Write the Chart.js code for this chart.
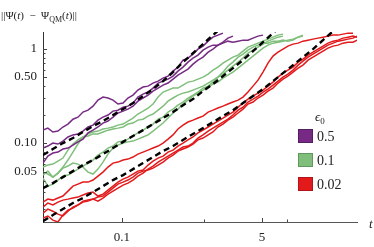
<!DOCTYPE html>
<html>
<head>
<meta charset="utf-8">
<script src="https://cdn.jsdelivr.net/npm/chart.js@4.4.1/dist/chart.umd.min.js"></script>
<style>
    html, body { margin: 0; padding: 0; background: #ffffff; }
</style>
</head>
<body>
<canvas id="myChart" width="374" height="247"></canvas>
<script>
"use strict";

// time grid t of the simulated runs
const times = [0.011, 0.0126, 0.0145, 0.0167, 0.0192, 0.0221, 0.0254, 0.0292, 0.0336, 0.0387,
    0.0445, 0.0511, 0.0588, 0.0676, 0.0778, 0.0894, 0.103, 0.118, 0.136, 0.156,
    0.180, 0.207, 0.238, 0.274, 0.315, 0.362, 0.416, 0.478, 0.550, 0.632,
    0.727, 0.836, 0.962, 1.11, 1.27, 1.46, 1.68, 1.93, 2.22, 2.56,
    2.94, 3.38, 3.89, 4.47, 5.14, 5.91, 6.80, 7.82, 8.99, 10.3,
    11.9, 13.7, 15.7, 18.1, 20.8, 23.9, 27.5, 31.6, 36.4, 41.8,
    48.1, 55.3, 63.6, 71.1];

// coarser grid for the dashed estimates
const fitTimes = [0.011, 0.0145, 0.0192, 0.0254, 0.0336, 0.0445, 0.0588, 0.0778, 0.103, 0.136,
    0.180, 0.238, 0.315, 0.416, 0.550, 0.727, 0.962, 1.27, 1.68, 2.22,
    2.94, 3.89, 5.14, 6.80, 8.99, 11.9, 15.7, 20.8, 27.5, 36.4,
    48.1, 63.6, 71.1];

const epsLabels = ["0.5", "0.1", "0.02"];

// eps0 = 0.5
const purpleA = [0.137, 0.144, 0.131, 0.134, 0.148, 0.159, 0.179, 0.188, 0.213, 0.223, 0.246, 0.285, 0.307, 0.300, 0.285, 0.259, 0.265, 0.300, 0.322, 0.364, 0.392, 0.401, 0.432, 0.453, 0.487, 0.512, 0.578, 0.637, 0.756, 0.793, 0.874, 0.988, 1.063, 1.200, 1.323, 1.390, 1.459];
const purpleB = [0.0886, 0.0930, 0.100, 0.0977, 0.105, 0.116, 0.122, 0.125, 0.134, 0.148, 0.155, 0.175, 0.188, 0.198, 0.218, 0.223, 0.240, 0.246, 0.265, 0.307, 0.330, 0.347, 0.382, 0.432, 0.453, 0.476, 0.512, 0.578, 0.637, 0.720, 0.793, 0.853, 0.964, 1.037, 1.089, 1.089, 1.143, 1.200, 1.171, 1.200, 1.230, 1.230, 1.292, 1.356, 1.390];
const purpleC = [0.0614, 0.0728, 0.0784, 0.0803, 0.0865, 0.0886, 0.0953, 0.103, 0.110, 0.128, 0.137, 0.148, 0.163, 0.171, 0.188, 0.208, 0.218, 0.229, 0.246, 0.278, 0.300, 0.322, 0.355, 0.382, 0.411, 0.432, 0.476, 0.524, 0.564, 0.607, 0.685, 0.756, 0.813, 0.918, 0.988, 1.089, 1.171, 1.292, 1.356];
const purpleFit = [0.0746, 0.0865, 0.100, 0.113, 0.131, 0.151, 0.171, 0.198, 0.229, 0.265, 0.315, 0.373, 0.453, 0.564, 0.720, 0.896, 1.116, 1.390, 1.730];

// eps0 = 0.1
const greenA = [0.0493, 0.0470, 0.0436, 0.0481, 0.0557, 0.0661, 0.0803, 0.0977, 0.116, 0.125, 0.131, 0.134, 0.141, 0.144, 0.148, 0.155, 0.159, 0.171, 0.184, 0.203, 0.218, 0.235, 0.259, 0.307, 0.347, 0.364, 0.382, 0.382, 0.411, 0.442, 0.453, 0.476, 0.499, 0.537, 0.592, 0.637, 0.702, 0.756, 0.813, 0.853, 0.941, 1.037, 1.089, 1.143, 1.200, 1.261, 1.323, 1.390, 1.424];
const greenB = [0.0557, 0.0585, 0.0599, 0.0645, 0.0694, 0.0843, 0.0977, 0.108, 0.116, 0.119, 0.125, 0.125, 0.131, 0.137, 0.141, 0.144, 0.148, 0.159, 0.163, 0.175, 0.179, 0.193, 0.203, 0.223, 0.246, 0.278, 0.300, 0.322, 0.338, 0.347, 0.364, 0.382, 0.401, 0.432, 0.464, 0.499, 0.564, 0.653, 0.720, 0.813, 0.874, 0.964, 1.037, 1.089, 1.143, 1.143, 1.200, 1.200, 1.230, 1.200, 1.230, 1.323, 1.390];
const greenC = [0.0458, 0.0505, 0.0436, 0.0481, 0.0543, 0.0571, 0.0614, 0.0599, 0.0557, 0.0493, 0.0470, 0.0530, 0.0629, 0.0765, 0.0886, 0.0953, 0.100, 0.103, 0.105, 0.110, 0.116, 0.122, 0.134, 0.148, 0.163, 0.184, 0.208, 0.229, 0.259, 0.285, 0.315, 0.338, 0.364, 0.392, 0.421, 0.442, 0.487, 0.524, 0.564, 0.622, 0.685, 0.756, 0.833, 0.918, 1.012, 1.089, 1.143, 1.171, 1.200, 1.230, 1.261, 1.323, 1.356];
const greenD = [0.0426, 0.0350, 0.0368, 0.0406, 0.0447, 0.0458, 0.0493, 0.0530, 0.0571, 0.0614, 0.0661, 0.0746, 0.0803, 0.0886, 0.0930, 0.103, 0.105, 0.110, 0.119, 0.128, 0.137, 0.148, 0.159, 0.179, 0.188, 0.213, 0.229, 0.252, 0.272, 0.300, 0.322, 0.347, 0.382, 0.401, 0.442, 0.499, 0.537, 0.592, 0.653, 0.720, 0.793, 0.896, 0.964, 1.037, 1.116, 1.200, 1.261, 1.323, 1.356];
const greenFit = [0.0334, 0.0377, 0.0436, 0.0505, 0.0585, 0.0661, 0.0765, 0.0886, 0.103, 0.119, 0.137, 0.159, 0.184, 0.213, 0.252, 0.292, 0.355, 0.421, 0.512, 0.622, 0.756, 0.941, 1.171, 1.459, 1.817];

// eps0 = 0.02
const redA = [0.0237, 0.0255, 0.0249, 0.0262, 0.0275, 0.0310, 0.0350, 0.0368, 0.0386, 0.0386, 0.0406, 0.0447, 0.0493, 0.0557, 0.0614, 0.0629, 0.0661, 0.0677, 0.0711, 0.0765, 0.0803, 0.0843, 0.0886, 0.0930, 0.100, 0.110, 0.122, 0.141, 0.155, 0.167, 0.175, 0.184, 0.193, 0.213, 0.223, 0.235, 0.246, 0.259, 0.272, 0.285, 0.307, 0.347, 0.401, 0.464, 0.564, 0.702, 0.833, 0.918, 0.988, 1.063, 1.116, 1.143, 1.200, 1.230, 1.261, 1.292, 1.323, 1.356, 1.390, 1.390, 1.424, 1.459, 1.459];
const redB = [0.0210, 0.0232, 0.0221, 0.0237, 0.0249, 0.0255, 0.0262, 0.0268, 0.0282, 0.0296, 0.0303, 0.0275, 0.0288, 0.0318, 0.0350, 0.0386, 0.0416, 0.0436, 0.0470, 0.0505, 0.0518, 0.0585, 0.0645, 0.0694, 0.0728, 0.0803, 0.0843, 0.0930, 0.100, 0.108, 0.116, 0.128, 0.137, 0.148, 0.159, 0.171, 0.184, 0.198, 0.213, 0.240, 0.265, 0.292, 0.315, 0.338, 0.364, 0.401, 0.442, 0.499, 0.550, 0.592, 0.637, 0.720, 0.774, 0.853, 0.918, 0.988, 1.063, 1.143, 1.200, 1.230, 1.292, 1.323, 1.356, 1.323];
const redC = [0.0181, 0.0200, 0.0190, 0.0177, 0.0169, 0.0190, 0.0210, 0.0221, 0.0237, 0.0243, 0.0255, 0.0268, 0.0275, 0.0303, 0.0334, 0.0368, 0.0386, 0.0406, 0.0436, 0.0481, 0.0505, 0.0518, 0.0543, 0.0585, 0.0629, 0.0694, 0.0746, 0.0823, 0.0865, 0.0908, 0.0977, 0.108, 0.113, 0.122, 0.131, 0.148, 0.159, 0.175, 0.188, 0.208, 0.229, 0.259, 0.272, 0.300, 0.322, 0.355, 0.382, 0.432, 0.476, 0.512, 0.564, 0.622, 0.669, 0.756, 0.813, 0.874, 0.941, 1.012, 1.063, 1.089, 1.143, 1.171, 1.171, 1.230];
const redD = [0.0161, 0.0169, 0.0153, 0.0146, 0.0173, 0.0195, 0.0205, 0.0221, 0.0243, 0.0249, 0.0255, 0.0243, 0.0262, 0.0288, 0.0310, 0.0334, 0.0359, 0.0377, 0.0406, 0.0447, 0.0481, 0.0530, 0.0571, 0.0629, 0.0677, 0.0728, 0.0784, 0.0843, 0.0908, 0.0930, 0.100, 0.113, 0.122, 0.134, 0.144, 0.155, 0.167, 0.179, 0.198, 0.223, 0.240, 0.272, 0.292, 0.315, 0.347, 0.373, 0.411, 0.453, 0.499, 0.537, 0.592, 0.669, 0.737, 0.813, 0.874, 0.941, 1.012, 1.089, 1.143, 1.200, 1.230, 1.261, 1.292, 1.356];
const redFit = [0.0149, 0.0173, 0.0200, 0.0232, 0.0262, 0.0303, 0.0350, 0.0406, 0.0458, 0.0530, 0.0614, 0.0711, 0.0823, 0.0930, 0.108, 0.125, 0.144, 0.167, 0.193, 0.223, 0.265, 0.315, 0.373, 0.453, 0.550, 0.669, 0.813, 0.988, 1.230, 1.532];

const yTicks = [0.02, 0.03, 0.04, 0.05, 0.06, 0.07, 0.08, 0.09, 0.1, 0.2, 0.3, 0.4, 0.5, 0.6, 0.7, 0.8, 0.9, 1];
const yTickLabels = { 0.05: "0.05", 0.1: "0.10", 0.5: "0.50", 1: "1" };
const xTicks = [0.1, 1, 5, 10];
const xTickLabels = { 0.1: "0.1", 5: "5" };

const colors = ["#762a83", "#7fbf7b", "#e31a1c"];
const edgeColors = ["#561e60", "#5f9a5b", "#b31416"];
const serif = "'Liberation Serif', 'DejaVu Serif', serif";

const toPoints = (vals, ts) => vals.map((v, i) => ({ x: ts[i], y: v }));

const walk = (vals, color) => ({
    data: toPoints(vals, times),
    borderColor: color,
    borderWidth: 1.5,
    pointRadius: 0,
    tension: 0,
    order: 2,
});

const fit = (vals) => ({
    data: toPoints(vals, fitTimes),
    borderColor: "#000000",
    borderWidth: 2.4,
    borderDash: [6, 4],
    pointRadius: 0,
    tension: 0,
    order: 1,
});

// inward tick marks, mathematica style
const innerTicks = {
    id: "innerTicks",
    afterDatasetsDraw(chart) {
        const { ctx, chartArea, scales } = chart;
        ctx.save();
        ctx.strokeStyle = "#444444";
        ctx.lineWidth = 1;
        ctx.beginPath();
        yTicks.forEach((v) => {
            const y = Math.round(scales.y.getPixelForValue(v)) + 0.5;
            const len = yTickLabels[v] ? 4 : 2.5;
            ctx.moveTo(chartArea.left, y);
            ctx.lineTo(chartArea.left + len, y);
        });
        xTicks.forEach((v) => {
            const x = Math.round(scales.x.getPixelForValue(v)) + 0.5;
            const len = xTickLabels[v] ? 4 : 2.5;
            ctx.moveTo(x, chartArea.bottom);
            ctx.lineTo(x, chartArea.bottom - len);
        });
        ctx.stroke();
        ctx.restore();
    },
};

const drawRuns = (ctx, x, y, runs) => {
    runs.forEach((r) => {
        ctx.font = r.font;
        ctx.fillText(r.text, x, y + (r.dy || 0));
        x += ctx.measureText(r.text).width;
    });
};

// axis titles and the eps0 legend
const annotations = {
    id: "annotations",
    afterDraw(chart) {
        const { ctx } = chart;
        ctx.save();
        ctx.fillStyle = "#222222";
        ctx.textBaseline = "alphabetic";
        ctx.textAlign = "left";

        const f = "11px " + serif;
        const fi = "italic 11px " + serif;
        drawRuns(ctx, 1, 19, [
            { text: "||Ψ(", font: f },
            { text: "t", font: fi },
            { text: ")  −  Ψ", font: f },
            { text: "QM", font: "8px " + serif, dy: 3 },
            { text: "(", font: f },
            { text: "t", font: fi },
            { text: ")||", font: f },
        ]);

        ctx.font = "italic 13px " + serif;
        ctx.fillText("t", 369, 228);

        drawRuns(ctx, 315, 121, [
            { text: "ϵ", font: "italic 13px " + serif },
            { text: "0", font: "9px " + serif, dy: 3 },
        ]);

        const boxTop = [129, 153, 177];
        epsLabels.forEach((label, i) => {
            ctx.fillStyle = colors[i];
            ctx.fillRect(298, boxTop[i], 15, 14);
            ctx.strokeStyle = edgeColors[i];
            ctx.lineWidth = 1;
            ctx.strokeRect(298.5, boxTop[i] + 0.5, 14, 13);
            ctx.fillStyle = "#222222";
            ctx.font = "14px " + serif;
            ctx.fillText(label, 317, boxTop[i] + 12);
        });
        ctx.restore();
    },
};

const renderChart = () => {
    const ctx = document.getElementById("myChart").getContext("2d");

    new Chart(ctx, {
        type: "line",
        data: {
            datasets: [
                fit(purpleFit),
                fit(greenFit),
                fit(redFit),
                walk(purpleA, colors[0]),
                walk(purpleB, colors[0]),
                walk(purpleC, colors[0]),
                walk(greenA, colors[1]),
                walk(greenB, colors[1]),
                walk(greenC, colors[1]),
                walk(greenD, colors[1]),
                walk(redA, colors[2]),
                walk(redB, colors[2]),
                walk(redC, colors[2]),
                walk(redD, colors[2]),
            ],
        },
        options: {
            responsive: false,
            animation: false,
            devicePixelRatio: 1,
            layout: {
                padding: { top: 32, right: 17, left: 0, bottom: 0 },
            },
            plugins: {
                legend: { display: false },
                tooltip: { enabled: false },
            },
            scales: {
                x: {
                    type: "logarithmic",
                    min: 0.011,
                    max: 71.1,
                    grid: { display: false, drawTicks: false },
                    border: { display: true, color: "#555555", width: 1 },
                    afterBuildTicks: (scale) => {
                        scale.ticks = xTicks.map((v) => ({ value: v }));
                    },
                    afterFit: (scale) => {
                        scale.height = 25;
                    },
                    ticks: {
                        autoSkip: false,
                        maxRotation: 0,
                        padding: 8,
                        color: "#222222",
                        font: { family: serif, size: 13 },
                        callback: (value) => xTickLabels[value] || "",
                    },
                },
                y: {
                    type: "logarithmic",
                    min: 0.0146,
                    max: 1.5,
                    grid: { display: false, drawTicks: false },
                    border: { display: true, color: "#333333", width: 1 },
                    afterBuildTicks: (scale) => {
                        scale.ticks = yTicks.map((v) => ({ value: v }));
                    },
                    afterFit: (scale) => {
                        scale.width = 43;
                    },
                    ticks: {
                        autoSkip: false,
                        padding: 6,
                        color: "#222222",
                        font: { family: serif, size: 13 },
                        callback: (value) => yTickLabels[value] || "",
                    },
                },
            },
        },
        plugins: [innerTicks, annotations],
    });
};

renderChart();
</script>
</body>
</html>
